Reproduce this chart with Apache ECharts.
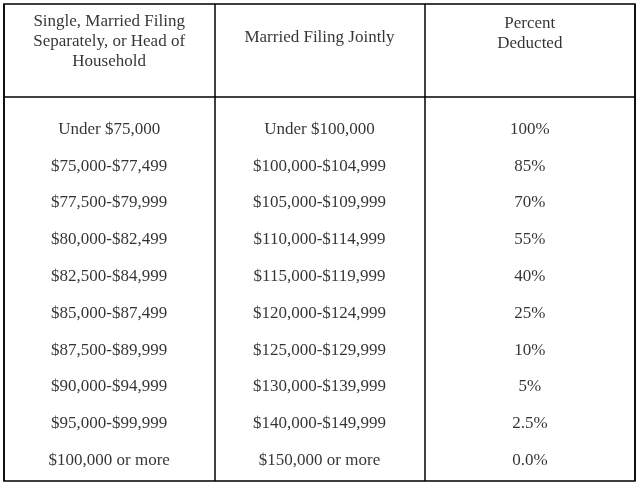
<!DOCTYPE html>
<html>
<head>
<meta charset="utf-8">
<script src="https://cdn.jsdelivr.net/npm/echarts@6/dist/echarts.min.js"></script>
<style>
  html, body { margin: 0; padding: 0; background: #fff; }
  #chart { width: 641px; height: 485px; }
</style>
</head>
<body>
<div id="chart"></div>
<script>
// table contents
const columns = ['single', 'joint', 'percent'];
const headers = [
  'Single, Married Filing\nSeparately, or Head of\nHousehold',
  'Married Filing Jointly',
  'Percent\nDeducted'
];
const singleRanges = ['Under $75,000', '$75,000-$77,499', '$77,500-$79,999', '$80,000-$82,499',
  '$82,500-$84,999', '$85,000-$87,499', '$87,500-$89,999', '$90,000-$94,999',
  '$95,000-$99,999', '$100,000 or more'];
const jointRanges = ['Under $100,000', '$100,000-$104,999', '$105,000-$109,999', '$110,000-$114,999',
  '$115,000-$119,999', '$120,000-$124,999', '$125,000-$129,999', '$130,000-$139,999',
  '$140,000-$149,999', '$150,000 or more'];
const percents = ['100%', '85%', '70%', '55%', '40%', '25%', '10%', '5%', '2.5%', '0.0%'];
// header text row position (in row units, rows are 0..9)
const headerRows = [-2.38, -2.5, -2.6];

const font = '"Liberation Serif", serif';
const cells = [];
[singleRanges, jointRanges, percents].forEach((col, c) => {
  col.forEach((t, r) => cells.push([c, r, t]));
});
const headCells = headers.map((t, c) => [c, headerRows[c], t]);

const myChart = echarts.init(document.getElementById('chart'));
const option = {
  animation: false,
  grid: {
    left: 4, right: 6, top: 4, bottom: 4,
    show: true, borderColor: '#000', borderWidth: 1.5
  },
  xAxis: {
    type: 'category',
    data: columns,
    boundaryGap: true,
    axisLine: { show: false },
    axisTick: { show: false },
    axisLabel: { show: false },
    splitLine: { show: true, lineStyle: { color: '#000', width: 1.5 } }
  },
  yAxis: {
    type: 'value',
    inverse: true,
    min: -3.41,
    max: 9.56,
    axisLine: { show: false },
    axisTick: { show: false },
    axisLabel: { show: false },
    splitLine: { show: false }
  },
  series: [
    {
      type: 'scatter',
      data: cells,
      symbolSize: 0,
      label: {
        show: true,
        position: 'inside',
        formatter: p => p.value[2],
        color: '#000',
        fontFamily: font,
        fontSize: 17
      },
      markLine: {
        silent: true,
        symbol: 'none',
        label: { show: false },
        lineStyle: { color: '#000', width: 1.5, type: 'solid' },
        data: [{ yAxis: -0.881 }]
      }
    },
    {
      type: 'scatter',
      data: headCells,
      symbolSize: 0,
      label: {
        show: true,
        position: 'inside',
        formatter: p => p.value[2],
        color: '#000',
        fontFamily: font,
        fontSize: 17,
        lineHeight: 20
      }
    }
  ]
};
myChart.setOption(option);
window.addEventListener('resize', () => myChart.resize());
</script>
</body>
</html>
